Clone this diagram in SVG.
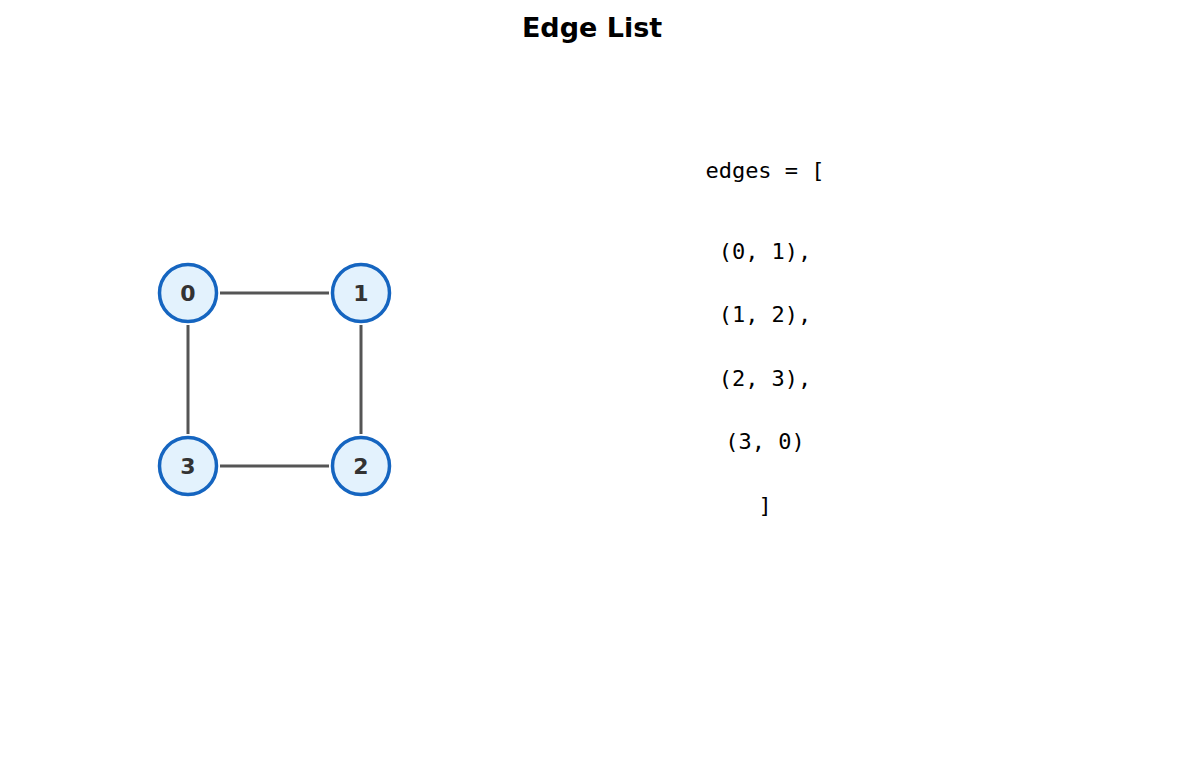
<svg xmlns="http://www.w3.org/2000/svg" width="1185" height="770" viewBox="0 0 1185 770">
<style>
.n{fill:#e3f2fd;stroke:#1565c0;stroke-width:3.5}
.l{font-family:"DejaVu Sans",sans-serif;font-weight:bold;font-size:22px;fill:#333;text-anchor:middle}
.e{stroke:#555;stroke-width:3;fill:none}
.c{font-family:"DejaVu Sans Mono",monospace;font-size:22px;fill:#000;text-anchor:middle}
</style>
<rect width="1185" height="770" fill="#fff"/>
<text x="592" y="37" font-family="DejaVu Sans,sans-serif" font-weight="bold" font-size="27" text-anchor="middle">Edge List</text>
<g id="connectors">
<line class="e" x1="220" y1="293" x2="329" y2="293"/>
<line class="e" x1="361" y1="325" x2="361" y2="434"/>
<line class="e" x1="220" y1="466" x2="329" y2="466"/>
<line class="e" x1="188" y1="325" x2="188" y2="434"/>
</g>
<g id="n0"><circle class="n" cx="188" cy="293" r="28.5"/><text class="l" x="188" y="301">0</text></g>
<g id="n1"><circle class="n" cx="361" cy="293" r="28.5"/><text class="l" x="361" y="301">1</text></g>
<g id="n2"><circle class="n" cx="361" cy="466" r="28.5"/><text class="l" x="361" y="474">2</text></g>
<g id="n3"><circle class="n" cx="188" cy="466" r="28.5"/><text class="l" x="188" y="474">3</text></g>
<g id="code">
<text class="c" x="765" y="178">edges = [</text>
<text class="c" x="765" y="259">(0, 1),</text>
<text class="c" x="765" y="322">(1, 2),</text>
<text class="c" x="765" y="386">(2, 3),</text>
<text class="c" x="765" y="449">(3, 0)</text>
<text class="c" x="765" y="513">]</text>
</g>
</svg>
